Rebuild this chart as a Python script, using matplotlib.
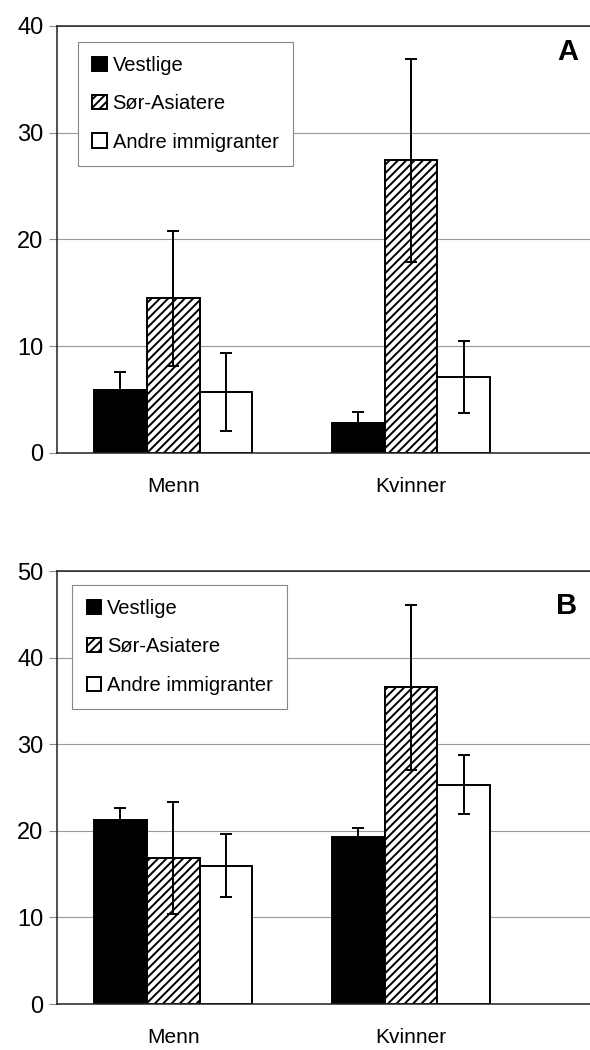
import numpy as np
import matplotlib
matplotlib.use("Agg")
from matplotlib import pyplot as plt

plt.rcParams['font.family'] = ['Liberation Sans', 'DejaVu Sans']
plt.rcParams['hatch.linewidth'] = 1.4

groups = ["Menn", "Kvinner"]
series = ["Vestlige", "Sør-Asiatere", "Andre immigranter"]

# panel A
a_vals = [[5.9, 2.8], [14.5, 27.4], [5.75, 7.15]]
a_low = [[4.2, 1.8], [8.1, 17.9], [2.1, 3.7]]
a_high = [[7.6, 3.8], [20.8, 36.9], [9.4, 10.5]]

# panel B
b_vals = [[21.3, 19.3], [16.9, 36.6], [16.0, 25.3]]
b_low = [[19.8, 18.2], [10.4, 27.1], [12.4, 22.0]]
b_high = [[22.7, 20.4], [23.3, 46.1], [19.6, 28.8]]

styles = [dict(color="black", hatch=None),
          dict(color="white", hatch="////"),
          dict(color="white", hatch=None)]


def draw_panel(ax, vals, low, high, ymax, letter, leg_xy, letter_xy):
    x = np.arange(len(groups))
    w = 0.222
    for i, name in enumerate(series):
        pos = x + (i - 1) * w
        v = np.array(vals[i])
        err = [v - np.array(low[i]), np.array(high[i]) - v]
        ax.bar(pos, v, w, facecolor=styles[i]["color"], edgecolor="black",
               hatch=styles[i]["hatch"], linewidth=1.4, label=name, zorder=2)
        ax.errorbar(pos, v, yerr=err, fmt="none", ecolor="black",
                    elinewidth=1.4, capsize=4.5, capthick=1.4, zorder=3)
    ax.set_xlim(-0.487, 1.794)
    ax.set_ylim(0, ymax)
    ax.set_yticks(np.arange(0, ymax + 1, 10))
    ax.set_xticks(x)
    ax.set_xticklabels(groups, fontsize=15)
    ax.tick_params(axis="x", length=0, pad=17)
    ax.tick_params(axis="y", labelsize=17, length=6, width=0.8,
                   color="#888888", pad=4)
    ax.yaxis.grid(True, color="#999999", linewidth=0.8, zorder=0)
    ax.set_axisbelow(True)
    ax.spines["right"].set_visible(False)
    for s in ["left", "bottom", "top"]:
        ax.spines[s].set_color("#222222")
        ax.spines[s].set_linewidth(1.1)
    leg = ax.legend(loc="upper left", bbox_to_anchor=leg_xy, borderaxespad=0,
                    fontsize=14.5, fancybox=False, edgecolor="#888888",
                    handlelength=0.7, handleheight=0.7, handletextpad=0.3,
                    labelspacing=0.95, borderpad=0.7, framealpha=1)
    leg.get_frame().set_linewidth(0.8)
    ax.text(letter_xy[0], letter_xy[1], letter, transform=ax.transAxes,
            fontsize=21, fontweight="bold", ha="center", va="center")


fig = plt.figure(figsize=(5.9, 10.5), dpi=100)
ax1 = fig.add_axes([0.097, 0.5686, 0.92, 0.4067])
ax2 = fig.add_axes([0.097, 0.0438, 0.92, 0.412])

draw_panel(ax1, a_vals, a_low, a_high, 40, "A", (0.039, 0.962), (0.941, 0.939))
draw_panel(ax2, b_vals, b_low, b_high, 50, "B", (0.028, 0.968), (0.939, 0.921))

fig.savefig("out.png", dpi=100)
